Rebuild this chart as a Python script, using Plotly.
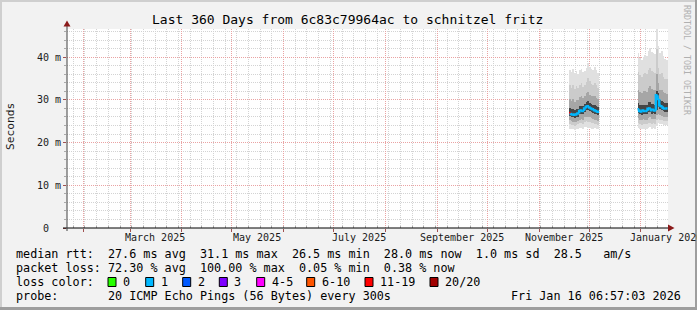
import plotly.graph_objects as go
import pandas as pd

# ---------------- data ----------------
TITLE = "Last 360 Days from 6c83c79964ac to schnitzel fritz"
Y_TICK_VALUES = [0, 10, 20, 30, 40]
Y_TICK_LABELS = ["0  ", "10 m", "20 m", "30 m", "40 m"]
MONTH_LABEL_DATES = ["2025-03-16", "2025-05-16", "2025-07-16", "2025-09-16", "2025-11-16", "2026-01-16"]
MONTH_LABELS = ["March 2025", "May 2025", "July 2025", "September 2025", "November 2025", "January 2026"]

seg1_days = ["2025-11-19", "2025-11-20", "2025-11-21", "2025-11-22", "2025-11-23", "2025-11-24",
             "2025-11-25", "2025-11-26", "2025-11-27", "2025-11-28", "2025-11-29", "2025-11-30",
             "2025-12-01", "2025-12-02", "2025-12-03", "2025-12-04", "2025-12-05", "2025-12-06"]
seg1_median = [26.9, 26.7, 26.6, 26.5, 26.6, 26.8, 27.4, 27.5, 27.4, 28.0, 28.4, 28.5, 28.2, 28.0, 27.8, 27.6, 27.4, 27.2]
seg1_loss = [12, 0.4, 0.2, 0.3, 0.2, 0.3, 0.4, 0.2, 0.3, 0.2, 0.3, 0.4, 0.2, 0.3, 0.2, 0.3, 0.2, 0.3]
seg1_min = [23.3, 23.1, 23.2, 23.0, 23.2, 23.3, 23.4, 23.5, 23.2, 23.6, 23.7, 23.5, 23.4, 23.3, 23.2, 23.4, 23.2, 23.1]
seg1_p10 = [24.3, 24.2, 24.1, 24.0, 24.1, 24.3, 24.5, 24.6, 24.4, 24.8, 25.0, 24.9, 24.8, 24.6, 24.5, 24.4, 24.3, 24.2]
seg1_p25 = [25.2, 25.0, 24.9, 24.8, 24.9, 25.1, 25.4, 25.6, 25.4, 25.9, 26.1, 26.0, 25.9, 25.7, 25.5, 25.4, 25.2, 25.1]
seg1_p40 = [26.2, 26.0, 25.9, 25.8, 25.9, 26.1, 26.6, 26.8, 26.6, 27.2, 27.6, 27.6, 27.4, 27.2, 27.0, 26.8, 26.6, 26.5]
seg1_p60 = [28.0, 27.8, 27.9, 27.6, 27.8, 27.9, 28.5, 28.6, 28.5, 29.1, 29.6, 29.7, 29.3, 29.1, 28.9, 28.8, 28.5, 28.3]
seg1_p75 = [30.2, 29.8, 30.1, 29.6, 30.0, 29.9, 30.6, 30.8, 30.4, 31.0, 31.6, 31.9, 31.2, 31.0, 30.8, 30.9, 30.4, 30.1]
seg1_p90 = [33.4, 32.8, 33.5, 32.6, 33.2, 32.7, 33.6, 33.9, 33.1, 33.6, 34.3, 35.2, 34.4, 33.8, 33.5, 34.0, 33.4, 32.9]
seg1_max = [37.0, 36.6, 37.3, 36.2, 36.8, 36.0, 36.9, 37.2, 36.5, 36.8, 37.4, 38.6, 37.8, 37.2, 36.9, 37.6, 37.0, 36.4]

seg2_days = ["2025-12-30", "2025-12-31", "2026-01-01", "2026-01-02", "2026-01-03", "2026-01-04",
             "2026-01-05", "2026-01-06", "2026-01-07", "2026-01-08", "2026-01-09", "2026-01-10",
             "2026-01-11", "2026-01-12", "2026-01-13", "2026-01-14", "2026-01-15", "2026-01-16"]
seg2_median = [27.8, 27.4, 27.3, 27.5, 27.4, 27.4, 27.9, 28.0, 27.6, 27.7, 27.5, 31.1, 30.2, 28.7, 28.5, 28.1, 28.0, 28.0]
seg2_loss = [0.3, 0.2, 0.4, 0.2, 0.3, 0.2, 0.3, 0.4, 0.2, 0.3, 0.2, 0.5, 0.4, 0.3, 0.2, 0.3, 0.4, 0.4]
seg2_min = [23.4, 23.2, 23.1, 23.3, 23.2, 23.2, 23.5, 23.6, 23.3, 23.4, 23.3, 24.0, 24.5, 24.4, 24.3, 24.2, 24.1, 24.1]
seg2_p10 = [24.5, 24.3, 24.2, 24.4, 24.3, 24.3, 24.6, 24.7, 24.4, 24.5, 24.4, 25.2, 25.5, 25.4, 25.3, 25.1, 25.0, 25.0]
seg2_p25 = [25.7, 25.4, 25.3, 25.5, 25.4, 25.4, 25.8, 25.9, 25.6, 25.6, 25.5, 26.4, 26.6, 26.4, 26.3, 26.1, 26.0, 26.0]
seg2_p40 = [27.0, 26.6, 26.5, 26.7, 26.6, 26.6, 27.1, 27.2, 26.8, 26.9, 26.7, 27.6, 28.4, 27.8, 27.6, 27.3, 27.2, 27.2]
seg2_p60 = [29.2, 28.8, 28.7, 28.9, 28.9, 28.8, 29.4, 29.6, 29.0, 29.1, 28.9, 32.0, 31.6, 30.0, 29.8, 29.4, 29.2, 29.2]
seg2_p75 = [32.4, 31.8, 31.6, 32.0, 32.1, 31.9, 32.8, 33.2, 32.5, 32.4, 32.2, 36.0, 34.0, 32.4, 32.4, 31.8, 31.5, 31.4]
seg2_p90 = [36.5, 35.8, 35.4, 36.0, 36.2, 36.0, 37.0, 37.4, 36.8, 36.6, 36.4, 42.0, 37.5, 36.0, 36.2, 35.4, 35.0, 34.8]
seg2_max = [40.9, 39.8, 39.4, 40.0, 40.5, 40.3, 41.4, 42.1, 41.2, 41.0, 40.8, 47.0, 42.6, 41.0, 41.4, 40.2, 39.6, 39.4]

LEGEND_MEDIAN = "median rtt:  27.6 ms avg  31.1 ms max  26.5 ms min  28.0 ms now  1.0 ms sd  28.5   am/s"
LEGEND_LOSS = "packet loss: 72.30 % avg  100.00 % max  0.05 % min  0.38 % now"
LEGEND_LOSS_TITLE = "loss color:"
LOSS_LABELS = ["0", "1", "2", "3", "4-5", "6-10", "11-19", "20/20"]
LOSS_COLORS = ["#26ff00", "#00b8ff", "#0059ff", "#7e00ff", "#ff00ff", "#ff5500", "#ff0000", "#a10000"]
LEGEND_PROBE = "probe:       20 ICMP Echo Pings (56 Bytes) every 300s"
STAMP = "Fri Jan 16 06:57:03 2026"
WATERMARK = "RRDTOOL / TOBI OETIKER"

# ---------------- style / layout ----------------
W, H = 697, 310
PL, PR, PT, PB = 67, 668, 29, 228
MONO = "DejaVu Sans Mono"
SMOKE_COLORS = ["#e0e0e0", "#cbcbcb", "#a6a6a6", "#454545"]
SWATCH_X = [108, 145.7, 182.7, 219.3, 256.7, 306.7, 365, 430]
X_RANGE = ["2025-01-22 06:00", "2026-01-17 06:00"]
Y_RANGE = [0, 46.6]


def px_x(px):
    return (px - PL) / (PR - PL)


def px_y(py):
    return (PB - py) / (PB - PT)


def loss_color(v):
    if v <= 0:
        return LOSS_COLORS[0]
    if v <= 1:
        return LOSS_COLORS[1]
    if v <= 2:
        return LOSS_COLORS[2]
    if v <= 3:
        return LOSS_COLORS[3]
    if v <= 5:
        return LOSS_COLORS[4]
    if v <= 10:
        return LOSS_COLORS[5]
    if v < 20:
        return LOSS_COLORS[6]
    return LOSS_COLORS[7]


def nb(s):
    return s.replace(" ", "\u00a0")


fig = go.Figure()
DAY = pd.Timedelta(days=1)
DAY_MS = 86400000

segments = [
    (seg1_days, seg1_median, seg1_loss,
     [(seg1_min, seg1_max), (seg1_p10, seg1_p90), (seg1_p25, seg1_p75), (seg1_p40, seg1_p60)]),
    (seg2_days, seg2_median, seg2_loss,
     [(seg2_min, seg2_max), (seg2_p10, seg2_p90), (seg2_p25, seg2_p75), (seg2_p40, seg2_p60)]),
]

for days, med, loss, bands in segments:
    starts = pd.to_datetime(days)
    centers = starts + DAY / 2
    for (lo, hi), col in zip(bands, SMOKE_COLORS):
        fig.add_trace(go.Bar(
            x=centers, y=[h - l for l, h in zip(lo, hi)], base=lo,
            width=DAY_MS, marker=dict(color=col, line=dict(width=0)),
            hoverinfo="skip", showlegend=False))
    groups = {}
    for i, (s, m, l) in enumerate(zip(starts, med, loss)):
        c = loss_color(l)
        xs, ys = groups.setdefault(c, ([], []))
        if i > 0:
            xs.append(s)
            ys.append(med[i - 1])
        xs += [s, s + DAY, None]
        ys += [m, m, None]
    for c, (xs, ys) in groups.items():
        fig.add_trace(go.Scatter(x=xs, y=ys, mode="lines", line=dict(color=c, width=2.5),
                                 connectgaps=False, hoverinfo="skip", showlegend=False))

shapes = []
# frame borders
shapes.append(dict(type="rect", xref="paper", yref="paper", x0=px_x(0), x1=px_x(W), y0=px_y(0), y1=px_y(2),
                   fillcolor="#cfcfcf", line=dict(width=0), layer="above"))
shapes.append(dict(type="rect", xref="paper", yref="paper", x0=px_x(0), x1=px_x(2), y0=px_y(0), y1=px_y(H),
                   fillcolor="#cfcfcf", line=dict(width=0), layer="above"))
shapes.append(dict(type="rect", xref="paper", yref="paper", x0=px_x(W - 2), x1=px_x(W), y0=px_y(0), y1=px_y(H),
                   fillcolor="#9e9e9e", line=dict(width=0), layer="above"))
shapes.append(dict(type="rect", xref="paper", yref="paper", x0=px_x(0), x1=px_x(W), y0=px_y(H - 3), y1=px_y(H),
                   fillcolor="#9e9e9e", line=dict(width=0), layer="above"))
# axis lines
shapes.append(dict(type="line", xref="paper", yref="paper", x0=px_x(63), x1=px_x(669), y0=px_y(PB), y1=px_y(PB),
                   line=dict(color="#000000", width=1), layer="above"))
shapes.append(dict(type="line", xref="paper", yref="paper", x0=px_x(PL), x1=px_x(PL), y0=px_y(231), y1=px_y(25),
                   line=dict(color="#404040", width=1), layer="above"))
# arrows
shapes.append(dict(type="path", xref="paper", yref="paper",
                   path=f"M {px_x(63.5)},{px_y(26.5)} L {px_x(70.5)},{px_y(26.5)} L {px_x(67)},{px_y(20.5)} Z",
                   fillcolor="#8b1a1a", line=dict(width=0), layer="above"))
shapes.append(dict(type="path", xref="paper", yref="paper",
                   path=f"M {px_x(668)},{px_y(224.5)} L {px_x(668)},{px_y(231.5)} L {px_x(674.5)},{px_y(228)} Z",
                   fillcolor="#8b1a1a", line=dict(width=0), layer="above"))
# loss colour swatches
for sx, col in zip(SWATCH_X, LOSS_COLORS):
    shapes.append(dict(type="rect", xref="paper", yref="paper", x0=px_x(sx), x1=px_x(sx + 8),
                       y0=px_y(286.5), y1=px_y(277.5), fillcolor=col,
                       line=dict(color="#000000", width=1), layer="above"))

ann = []


def text(xp, yp, s, size, xanchor="left", color="#000000", angle=0, xref="paper"):
    ann.append(dict(x=xp if xref != "paper" else px_x(xp), y=px_y(yp), xref=xref, yref="paper",
                    text=nb(s), showarrow=False, xanchor=xanchor, yanchor="middle",
                    font=dict(family=MONO, size=size, color=color), textangle=angle,
                    borderpad=0, borderwidth=0))


text(347.5, 19, TITLE, 13, xanchor="center")
text(10, 127, "Seconds", 11.2, xanchor="center", color="#1a1a1a", angle=-90)
text(687, 60, WATERMARK, 8.3, xanchor="center", color="#b0b0b0", angle=90)
for d, lab in zip(MONTH_LABEL_DATES, MONTH_LABELS):
    text(d, 237.5, lab, 10, xanchor="center", color="#1a1a1a", xref="x")
text(16, 254, LEGEND_MEDIAN, 11.75)
text(16, 268, LEGEND_LOSS, 11.75)
text(16, 282, LEGEND_LOSS_TITLE, 11.75)
for sx, lab in zip(SWATCH_X, LOSS_LABELS):
    text(sx + 15, 282, lab, 11.75)
text(16, 296, LEGEND_PROBE, 11.75)
text(681, 296, STAMP, 11.75, xanchor="right")

MAJOR_GRID = "#eaa3a3"
MINOR_GRID = "#d3d3d3"

fig.update_layout(
    width=W, height=H, autosize=False,
    margin=dict(l=PL, r=W - PR, t=PT, b=H - PB, pad=0),
    paper_bgcolor="#f2f2f2", plot_bgcolor="#ffffff",
    barmode="overlay", bargap=0, showlegend=False,
    shapes=shapes, annotations=ann,
    xaxis=dict(type="date", range=X_RANGE, automargin=False, fixedrange=True,
               showgrid=True, gridcolor=MAJOR_GRID, griddash="1px,1px", gridwidth=1,
               tick0="2025-02-01", dtick="M1", ticks="outside", ticklen=3, tickcolor="#a05050",
               showticklabels=False, zeroline=False, showline=False,
               minor=dict(dtick=7 * DAY_MS, tick0="2025-01-26", showgrid=True, gridcolor=MINOR_GRID,
                          griddash="1px,1px", gridwidth=1, ticks="inside", ticklen=2, tickcolor="#aaaaaa")),
    yaxis=dict(range=Y_RANGE, automargin=False, fixedrange=True,
               tickmode="array", tickvals=Y_TICK_VALUES, ticktext=[nb(t) for t in Y_TICK_LABELS],
               tickfont=dict(family=MONO, size=10, color="#1a1a1a"),
               showgrid=True, gridcolor=MAJOR_GRID, griddash="1px,1px", gridwidth=1,
               ticks="outside", ticklen=3, tickcolor="#a05050",
               zeroline=False, showline=False,
               minor=dict(dtick=2, showgrid=True, gridcolor=MINOR_GRID, griddash="1px,1px",
                          gridwidth=1, ticks="outside", ticklen=2, tickcolor="#aaaaaa")),
)

fig.write_html("out.html", config={"displayModeBar": False, "staticPlot": True})
